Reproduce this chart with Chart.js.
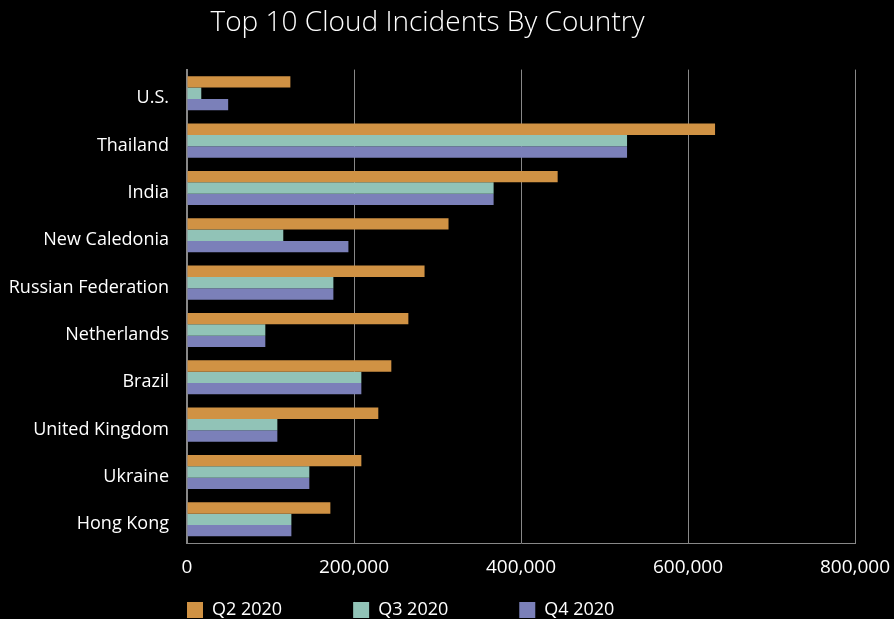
<!DOCTYPE html>
<html>
<head>
<meta charset="utf-8">
<script src="https://cdn.jsdelivr.net/npm/chart.js@4"></script>
<style>
  html, body { margin: 0; padding: 0; background: #000; }
  #wrap { width: 894px; height: 619px; }
</style>
</head>
<body>
<div id="wrap"><canvas id="myChart"></canvas></div>
<script>
const countries = ["U.S.", "Thailand", "India", "New Caledonia", "Russian Federation",
  "Netherlands", "Brazil", "United Kingdom", "Ukraine", "Hong Kong"];
const q2 = [123800, 632400, 443900, 313200, 284500, 265100, 244700, 229100, 208800, 171700];
const q3 = [17100, 527000, 367200, 115300, 175300, 93800, 208800, 108200, 146500, 125000];
const q4 = [49300, 527000, 367200, 193300, 175300, 93800, 208800, 108200, 146500, 125000];
const seriesNames = ["Q2 2020", "Q3 2020", "Q4 2020"];
const xTicks = [0, 200000, 400000, 600000, 800000];

const FONT = "'Open Sans'";
const LEGEND_H = 40;

// legend: wide gaps between items but a short box, placed under the plot's left edge
const legendShift = {
  id: "legendShift",
  beforeLayout(chart) {
    const lg = chart.legend;
    if (lg && !lg._patched) {
      const fit = lg.fit.bind(lg);
      lg.fit = function () { fit(); this.height = LEGEND_H; };
      lg._patched = true;
    }
  },
  afterLayout(chart) {
    const lg = chart.legend;
    const pad = lg.options.labels.padding;
    lg.left = chart.chartArea.left - pad;
    lg.top = 601 - pad;
  }
};

const ctx = document.getElementById("myChart").getContext("2d");
const myChart = new Chart(ctx, {
  type: "bar",
  data: {
    labels: countries,
    datasets: [
      { label: seriesNames[0], data: q2, backgroundColor: "#D09244" },
      { label: seriesNames[1], data: q3, backgroundColor: "#91C3B7" },
      { label: seriesNames[2], data: q4, backgroundColor: "#7B80B9" }
    ]
  },
  plugins: [legendShift],
  options: {
    indexAxis: "y",
    responsive: true,
    maintainAspectRatio: false,
    animation: false,
    datasets: { bar: { categoryPercentage: 0.72, barPercentage: 1.0 } },
    layout: { padding: { left: 0, right: 39, top: 0, bottom: 0 } },
    plugins: {
      title: {
        display: true,
        text: "Top 10 Cloud Incidents By Country",
        color: "#ffffff",
        font: { family: FONT, size: 28, weight: "300" },
        padding: { top: 6, bottom: 30 }
      },
      legend: {
        position: "bottom",
        align: "start",
        labels: {
          color: "#ffffff",
          font: { family: FONT, size: 18 },
          boxWidth: 16,
          boxHeight: 16,
          padding: 71
        }
      },
      tooltip: { enabled: false }
    },
    scales: {
      x: {
        min: 0,
        max: 800000,
        afterBuildTicks(scale) {
          scale.ticks = xTicks.map(v => ({ value: v }));
        },
        afterFit(scale) {
          scale.height = 619 - 543 - LEGEND_H;
          // let the last label run off the edge like the original
          scale.paddingRight = 0;
        },
        ticks: {
          color: "#ffffff",
          font: { family: FONT, size: 19 },
          padding: 13,
          maxRotation: 0,
          callback: v => v.toLocaleString("en-US")
        },
        grid: { color: "#888888", lineWidth: 1, drawTicks: false },
        border: { color: "#888888", width: 1 }
      },
      y: {
        afterFit(scale) { scale.width = 187; },
        ticks: {
          color: "#ffffff",
          font: { family: FONT, size: 18 },
          padding: 10,
          labelOffset: 5
        },
        grid: { display: false },
        border: { color: "#888888", width: 2 }
      }
    }
  }
});
</script>
</body>
</html>
